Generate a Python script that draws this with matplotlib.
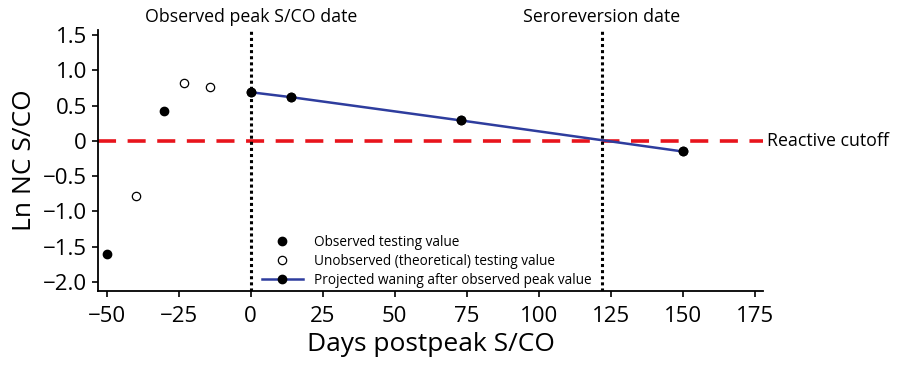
import matplotlib
matplotlib.use("Agg")
import matplotlib.pyplot as plt

plt.rcParams['font.family'] = ['Open Sans', 'DejaVu Sans']

# observed testing values (days postpeak, ln NC S/CO)
obs_days = [-50, -30, 0, 14, 73, 150]
obs_vals = [-1.6, 0.42, 0.69, 0.62, 0.29, -0.15]

# unobserved (theoretical) values
unobs_days = [-40, -23, -14]
unobs_vals = [-0.78, 0.82, 0.77]

# projected waning after peak
proj_days = [0, 14, 73, 150]
proj_vals = [0.69, 0.62, 0.29, -0.15]

peak_day = 0
serorev_day = 122
cutoff = 0

xticks = [-50, -25, 0, 25, 50, 75, 100, 125, 150, 175]
yticks = [1.5, 1.0, 0.5, 0, -0.5, -1.0, -1.5, -2.0]
ytick_labels = ["1.5", "1.0", "0.5", "0", "\u22120.5", "\u22121.0", "\u22121.5", "\u22122.0"]

fig = plt.figure(figsize=(9, 3.68), dpi=100)
ax = fig.add_axes([0.109, 0.209, 0.739, 0.709])

ax.axhline(cutoff, color='#e8141c', lw=2.6, ls=(0, (5, 3.2)), zorder=1)
ax.axvline(peak_day, color='black', lw=2.2, ls=(0, (1, 1)), zorder=1)
ax.axvline(serorev_day, color='black', lw=2.2, ls=(0, (1, 1)), zorder=1)

ax.plot(proj_days, proj_vals, color='#2e3d9e', lw=1.8, marker='o', ms=6,
        mfc='black', mec='black', zorder=3,
        label="Projected waning after observed peak value")
ax.plot(obs_days, obs_vals, ls='none', marker='o', ms=6, mfc='black', mec='black',
        zorder=4, label="Observed testing value")
ax.plot(unobs_days, unobs_vals, ls='none', marker='o', ms=6, mfc='white', mec='black',
        mew=0.9, zorder=4, label="Unobserved (theoretical) testing value")

ax.set_xlim(-53, 178)
ax.set_ylim(-2.13, 1.57)
ax.set_xticks(xticks)
ax.set_yticks(yticks)
ax.set_yticklabels(ytick_labels)
ax.tick_params(labelsize=16, direction='out', length=4, width=1.2)
ax.tick_params(axis='x', pad=7)
ax.tick_params(axis='y', pad=4)
ax.spines['top'].set_visible(False)
ax.spines['right'].set_visible(False)
ax.spines['left'].set_linewidth(1.3)
ax.spines['bottom'].set_linewidth(1.3)

ax.set_xlabel("Days postpeak S/CO", fontsize=19, labelpad=3)
ax.set_ylabel("Ln NC S/CO", fontsize=19, labelpad=4)

ax.text(peak_day, 1.63, "Observed peak S/CO date", ha='center', va='bottom', fontsize=12.8)
ax.text(serorev_day, 1.63, "Seroreversion date", ha='center', va='bottom', fontsize=12.8)
ax.text(1.005, cutoff, "Reactive cutoff", transform=ax.get_yaxis_transform(),
        ha='left', va='center', fontsize=12.8)

h, l = ax.get_legend_handles_labels()
order = [1, 2, 0]
ax.legend([h[i] for i in order], [l[i] for i in order], loc='lower left',
          bbox_to_anchor=(0.232, -0.025), frameon=False, fontsize=9.8,
          handlelength=3.0, labelspacing=0.3, handletextpad=0.8, borderpad=0.2)

fig.savefig("out.png", dpi=100)
